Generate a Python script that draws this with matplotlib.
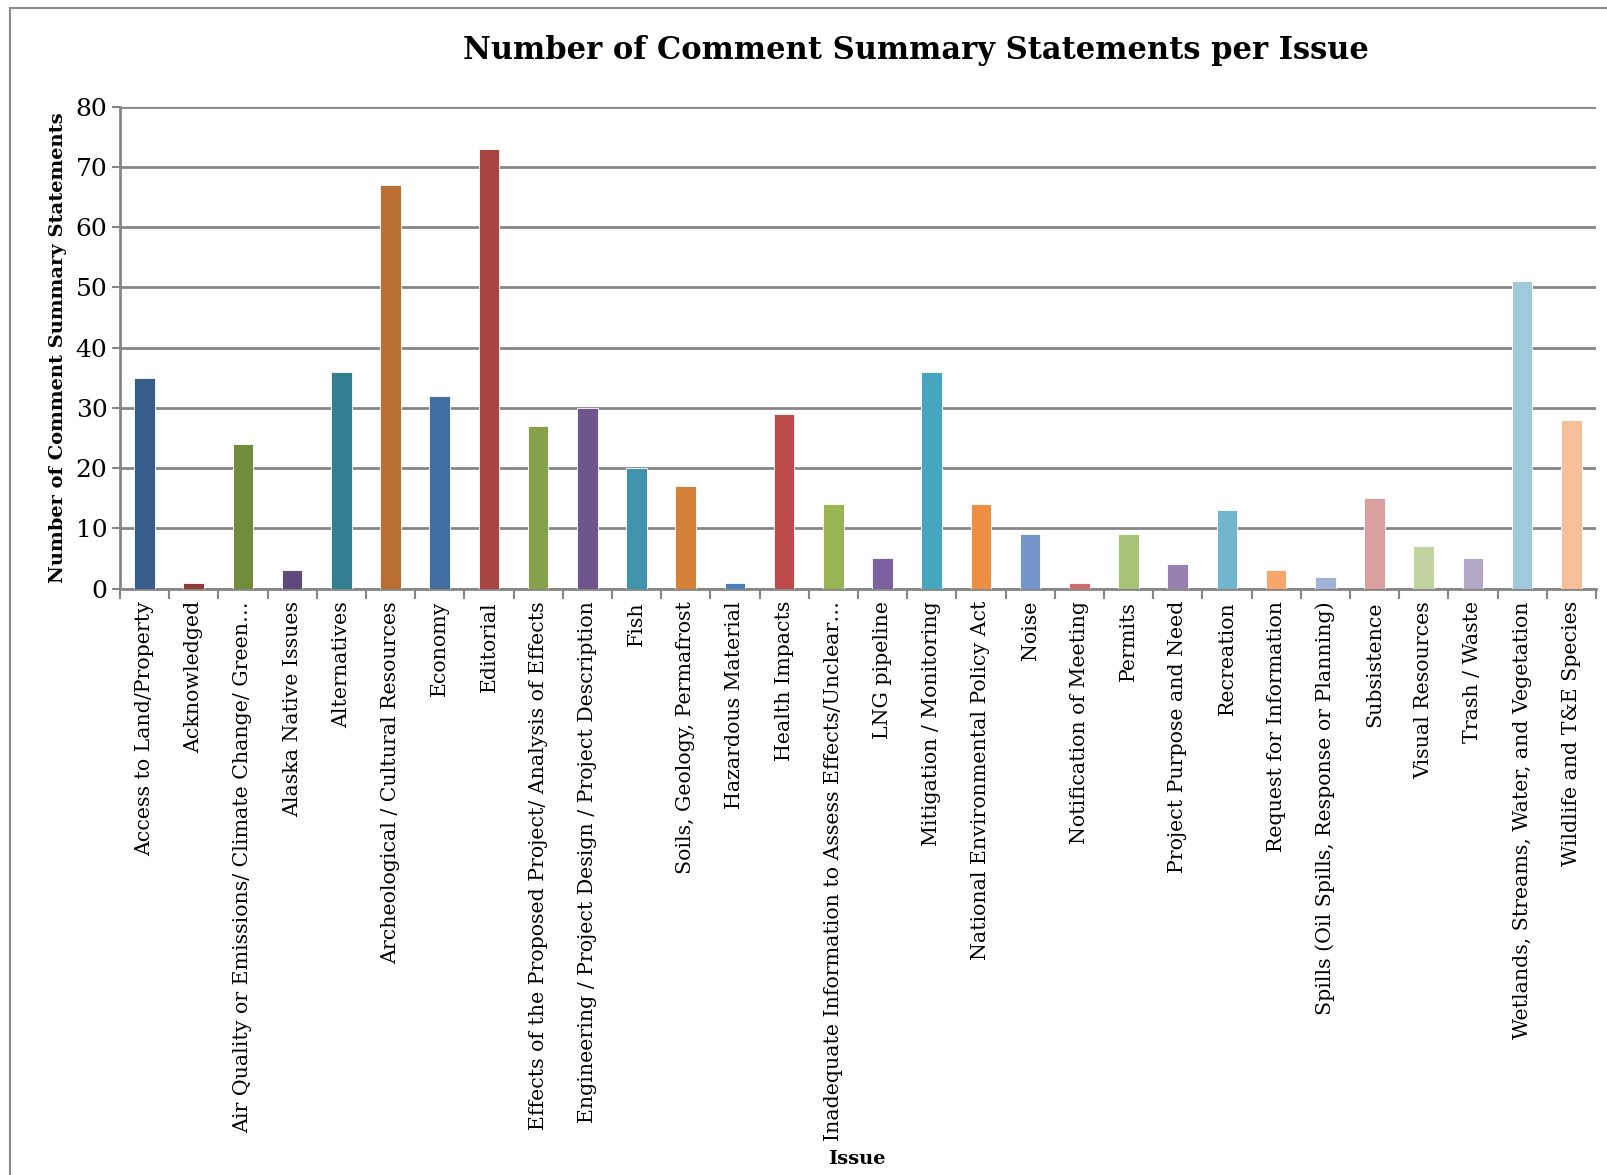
"""
Bar chart: number of comment summary statements per issue.
"""
import numpy as np
import matplotlib
matplotlib.use("Agg")
import matplotlib.pyplot as plt
import matplotlib.patches as mpatches
from matplotlib.ticker import FixedLocator

issues = [
    "Access to Land/Property",
    "Acknowledged",
    "Air Quality or Emissions/ Climate Change/ Green\u2026",
    "Alaska Native Issues",
    "Alternatives",
    "Archeological / Cultural Resources",
    "Economy",
    "Editorial",
    "Effects of the Proposed Project/ Analysis of Effects",
    "Engineering / Project Design / Project Description",
    "Fish",
    "Soils, Geology, Permafrost",
    "Hazardous Material",
    "Health Impacts",
    "Inadequate Information to Assess Effects/Unclear\u2026",
    "LNG pipeline",
    "Mitigation / Monitoring",
    "National Environmental Policy Act",
    "Noise",
    "Notification of Meeting",
    "Permits",
    "Project Purpose and Need",
    "Recreation",
    "Request for Information",
    "Spills (Oil Spills, Response or Planning)",
    "Subsistence",
    "Visual Resources",
    "Trash / Waste",
    "Wetlands, Streams, Water, and Vegetation",
    "Wildlife and T&E Species",
]

counts = [35, 1, 24, 3, 36, 67, 32, 73, 27, 30,
          20, 17, 1, 29, 14, 5, 36, 14, 9, 1,
          9, 4, 13, 3, 2, 15, 7, 5, 51, 28]

bar_colors = [
    "#375d8b", "#8e3b38", "#728c3c", "#5e4a7a", "#347e92",
    "#b86f31", "#426da1", "#a84441", "#87a04a", "#6e558c",
    "#4093ac", "#d48137", "#4a7ebb", "#bb4a48", "#98b454",
    "#7d60a0", "#46a5bf", "#ee8e43", "#7596c8", "#cc706d",
    "#aac278", "#9582b1", "#72b6ce", "#f8a66b", "#a0b4d8",
    "#d9a09f", "#c3d3a2", "#b2a8c6", "#a0c9db", "#f8bf9b",
]

y_ticks = [0, 10, 20, 30, 40, 50, 60, 70, 80]

FONT = "DejaVu Serif"
GRID = "#868686"

fig = plt.figure(figsize=(16.08, 11.75), dpi=100)
fig.patch.set_facecolor("white")

# outer chart frame (runs off the right/bottom edge like the source)
frame = mpatches.Rectangle((10 / 1608, -0.05), 1.2, 1 - 8 / 1175 + 0.05,
                           transform=fig.transFigure, fill=False,
                           edgecolor="#8c8c8c", linewidth=1.5)
fig.patches.append(frame)

ax = fig.add_axes([0.0746, 0.4991, 0.9179, 0.4102])

x = np.arange(len(issues))
ax.bar(x, counts, width=0.42, color=bar_colors, edgecolor="white",
       linewidth=0.6, zorder=3)

ax.set_xlim(-0.5, len(issues) - 0.5)
ax.set_ylim(0, 80)
ax.set_yticks(y_ticks)
ax.set_yticklabels([str(t) for t in y_ticks], fontsize=18, family=FONT)
ax.yaxis.grid(True, color=GRID, linewidth=2.0, zorder=0)
ax.set_axisbelow(True)

ax.set_xticks(x)
ax.set_xticklabels(issues, rotation=90, fontsize=14.8, family=FONT,
                   ha="center", va="top")
ax.tick_params(axis="x", which="major", length=0, pad=9)
ax.xaxis.set_minor_locator(FixedLocator(np.arange(-0.5, len(issues), 1.0)))
ax.tick_params(axis="x", which="minor", length=7, width=1.5, color=GRID,
               direction="out")
ax.tick_params(axis="y", length=6, width=1.5, color=GRID, pad=3)

for side in ["top", "right"]:
    ax.spines[side].set_visible(False)
for side in ["left", "bottom"]:
    ax.spines[side].set_color(GRID)
    ax.spines[side].set_linewidth(2.0)

fig.text(916 / 1608, 1 - 51 / 1175,
         "Number of Comment Summary Statements per Issue",
         fontsize=22, fontweight="bold", family=FONT,
         ha="center", va="center")
ax.set_ylabel("Number of Comment Summary Statements", fontsize=14,
              fontweight="bold", family=FONT, labelpad=6)
fig.text(857 / 1608, 1 - 1159 / 1175, "Issue", fontsize=14,
         fontweight="bold", family=FONT, ha="center", va="center")

fig.savefig("out.png", dpi=100, facecolor="white")
